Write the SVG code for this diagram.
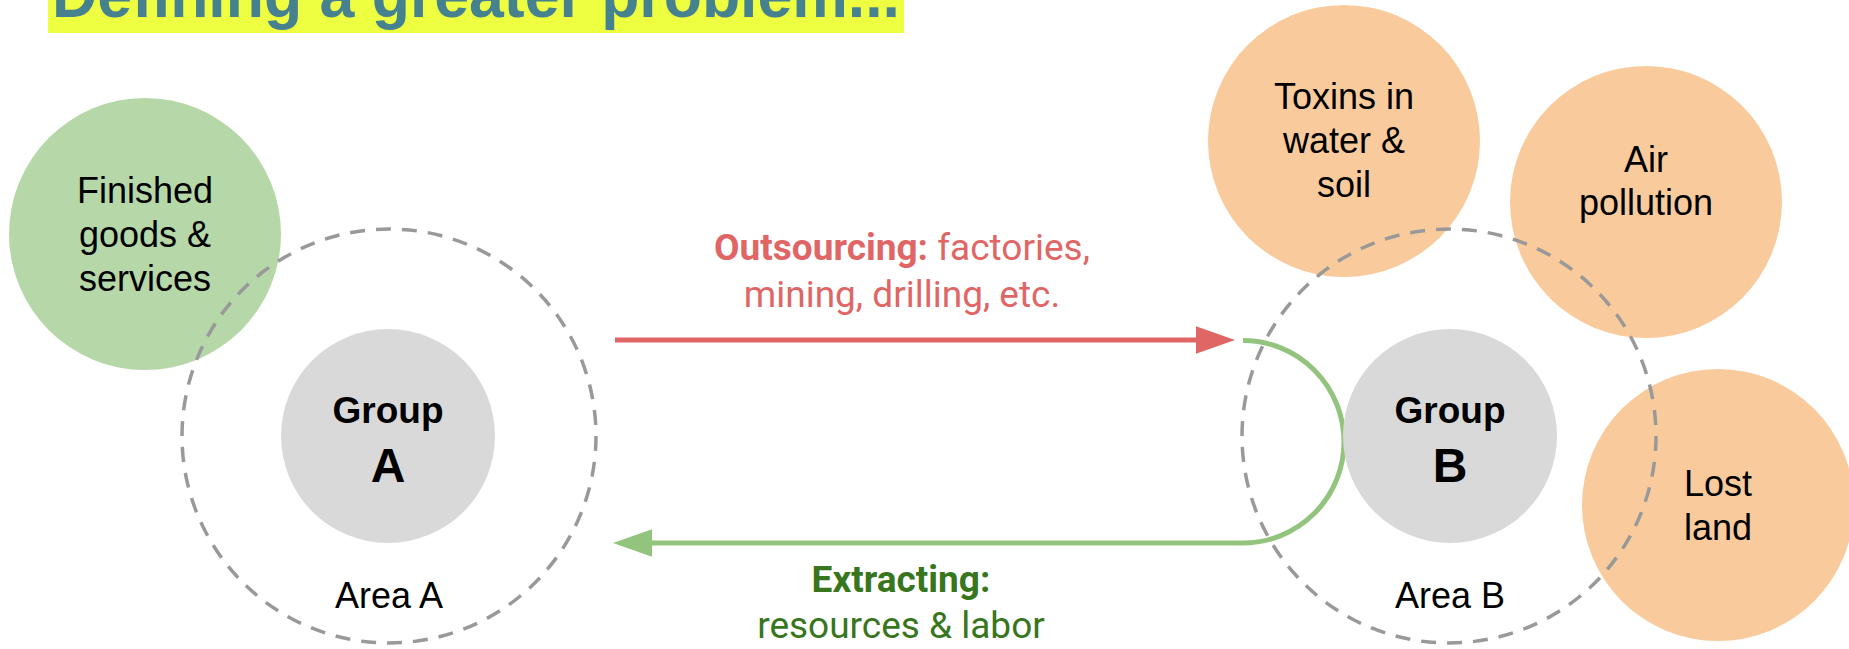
<svg xmlns="http://www.w3.org/2000/svg" width="1849" height="649" viewBox="0 0 1849 649">
<defs>
<style>
.bg{fill:#ffffff}
.area{fill:none;stroke:#999999;stroke-width:3.5;stroke-dasharray:15 11}
.green{fill:#b6d7a8}
.orange{fill:#f9cb9c}
.grey{fill:#d9d9d9}
.t{font-family:"Liberation Sans",Arial,sans-serif;font-size:36px;fill:#000000;text-anchor:middle}
.tb{font-family:"Liberation Sans",Arial,sans-serif;font-weight:bold;fill:#000000;text-anchor:middle}
.lab{font-family:Roboto,"Liberation Sans",sans-serif;font-size:37px;text-anchor:middle}
.red{fill:#e06666}
.dg{fill:#38761d}
</style>
<marker id="hRed" markerUnits="userSpaceOnUse" markerWidth="40" markerHeight="28" refX="0" refY="13.75" orient="auto">
<path d="M0,0 L39,13.75 L0,27.5 z" fill="#e06666"/>
</marker>
<marker id="hGreen" markerUnits="userSpaceOnUse" markerWidth="40" markerHeight="28" refX="0" refY="13.75" orient="auto">
<path d="M0,0 L39,13.75 L0,27.5 z" fill="#93c47d"/>
</marker>
</defs>
<rect class="bg" x="0" y="0" width="1849" height="649"/>
<g id="title">
<rect x="48" y="-40" width="856" height="73" fill="#eeff41"/>
<text x="52" y="17" font-family="'Liberation Sans',Arial,sans-serif" font-weight="bold" font-size="64" fill="#45818e" textLength="848" lengthAdjust="spacingAndGlyphs">Defining a greater problem...</text>
</g>
<g id="finished">
<circle class="green" cx="145" cy="234" r="136"/>
<text class="t" x="145" y="203">Finished</text>
<text class="t" x="145" y="247">goods &amp;</text>
<text class="t" x="145" y="291">services</text>
</g>
<g id="toxins">
<circle class="orange" cx="1344" cy="141" r="136"/>
<text class="t" x="1344" y="109">Toxins in</text>
<text class="t" x="1344" y="153">water &amp;</text>
<text class="t" x="1344" y="197">soil</text>
</g>
<g id="air">
<circle class="orange" cx="1646" cy="202" r="136"/>
<text class="t" x="1646" y="172">Air</text>
<text class="t" x="1646" y="215">pollution</text>
</g>
<g id="lost">
<circle class="orange" cx="1718" cy="505" r="136"/>
<text class="t" x="1718" y="496">Lost</text>
<text class="t" x="1718" y="540">land</text>
</g>
<g id="connectors">
<line x1="615" y1="340" x2="1196" y2="340" stroke="#e06666" stroke-width="5" marker-end="url(#hRed)"/>
<path d="M1243,340.5 A101,101.25 0 0 1 1243,543 L652,543" fill="none" stroke="#93c47d" stroke-width="5" marker-end="url(#hGreen)"/>
</g>
<g id="areaA">
<circle class="area" cx="389" cy="436" r="207"/>
<text class="t" x="389" y="608">Area A</text>
</g>
<g id="areaB">
<circle class="area" cx="1449" cy="436" r="207"/>
<text class="t" x="1450" y="608">Area B</text>
</g>
<g id="groupA">
<circle class="grey" cx="388" cy="436" r="107"/>
<text class="tb" x="388" y="423" font-size="37">Group</text>
<text class="tb" x="388" y="482" font-size="48">A</text>
</g>
<g id="groupB">
<circle class="grey" cx="1450" cy="436" r="107"/>
<text class="tb" x="1450" y="423" font-size="37">Group</text>
<text class="tb" x="1450" y="482" font-size="48">B</text>
</g>
<g id="labels">
<text class="lab red" x="902" y="260"><tspan font-weight="bold">Outsourcing:</tspan> factories,</text>
<text class="lab red" x="902" y="307">mining, drilling, etc.</text>
<text class="lab dg" x="901" y="592" font-weight="bold">Extracting:</text>
<text class="lab dg" x="901" y="638">resources &amp; labor</text>
</g>
</svg>
